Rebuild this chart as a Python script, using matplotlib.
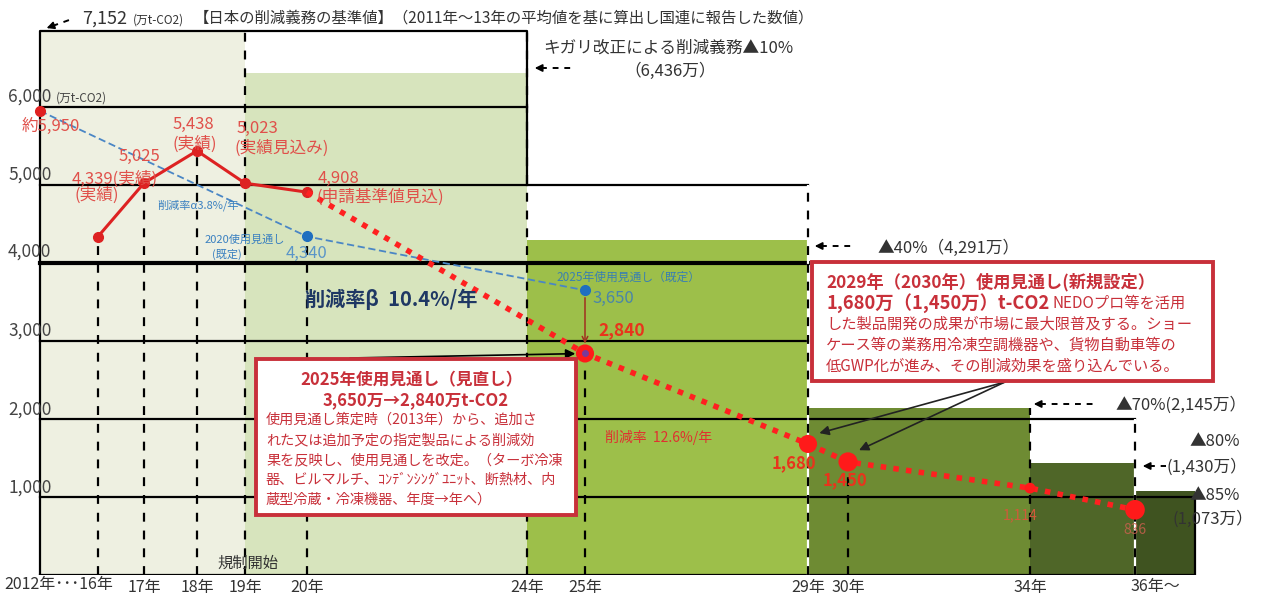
import numpy as np
import matplotlib.pyplot as plt
from matplotlib.patches import Rectangle

plt.rcParams['font.family'] = ['Noto Sans CJK JP', 'DejaVu Sans']

# 横軸：年と図上の位置（2012～16年は詰めて描かれている）
axis_years = [2012, 2016, 2017, 2018, 2019, 2020, 2024, 2025, 2029, 2030, 2034, 2036, 2037]
axis_pos = [40, 98, 144, 197, 245, 307, 527, 585, 808, 848, 1030, 1135, 1195]
tick_years = [2017, 2018, 2019, 2020, 2024, 2025, 2029, 2030, 2034]
tick_labels = ['17年', '18年', '19年', '20年', '24年', '25年', '29年', '30年', '34年']

# 削減義務の段階（万t-CO2）
step_start = [2012, 2019, 2024, 2029, 2034, 2036]
step_end = [2019, 2024, 2029, 2034, 2036, 2037]
step_cap = [6970, 6436, 4291, 2145, 1430, 1073]  # 先頭は基準値7,152の枠（図上の高さ）
step_colors = ['#eef0e1', '#d7e4bd', '#9dbf4a', '#6e8b33', '#4f6628', '#3f5320']

# 実績
actual_years = [2016, 2017, 2018, 2019, 2020]
actual_values = [4339, 5025, 5438, 5023, 4908]

# 新しい使用見通し
outlook_years = [2020, 2025, 2029, 2030, 2034, 2036]
outlook_values = [4908, 2840, 1680, 1450, 1114, 836]

# 既定の使用見通し
old_years = [2012, 2020, 2025]
old_values = [5950, 4340, 3650]

# 目盛り線とその右端
grid_values = [6000, 5000, 4000, 3000, 2000, 1000]
grid_end = [2024, 2029, 2029, 2029, 2036, 2037]

RED = '#e0504a'
BOX_RED = '#c8303a'


def xpos(year):
    return np.interp(year, axis_years, axis_pos)


fig = plt.figure(figsize=(12.74, 5.97), dpi=100)
ax = fig.add_axes([0, 22 / 597, 1, 575 / 597])
ax.set_xlim(0, 1274)
ax.set_ylim(0, 575 / 0.078)
for s in ax.spines.values():
    s.set_visible(False)
ax.set_yticks([])
ax.set_xticks(xpos(tick_years), tick_labels)
ax.tick_params(axis='x', length=0, labelsize=11.5, pad=3, labelcolor='#333333')

# 段階ごとの帯
left = xpos(step_start)
ax.bar(left, step_cap, width=xpos(step_end) - left, align='edge',
       color=step_colors, zorder=1)

# 目盛り線
for v, e in zip(grid_values, grid_end):
    ax.plot(xpos([2012, e]), [v, v], color='k', lw=3 if v == 4000 else 1.6, zorder=3)

# 枠線
top = step_cap[0]
ax.plot(xpos([2012, 2012, 2024, 2024]), [0, top, top, 5000], color='k', lw=1.6, zorder=3)
ax.plot(xpos([2029, 2029]), [5000, 2000], color='k', lw=1.2, zorder=3)
ax.plot(xpos([2036, 2036]), [2000, 1000], color='k', lw=1.2, zorder=3)
ax.plot(xpos([2037, 2037, 2012]), [1000, 0, 0], color='k', lw=1.6, zorder=3)

# 年ごとの破線
dash_years = actual_years + [2024, 2025, 2029, 2030, 2034, 2036]
dash_tops = [actual_values[0], actual_values[1], actual_values[2], top, old_values[1],
             top, outlook_values[1], 5000, outlook_values[3], step_cap[3], 2000]
ax.vlines(xpos([2029, 2036]), 0, [5000, 2000], colors='white', lw=1.6, zorder=3.5)
ax.vlines(xpos(dash_years), 0, dash_tops, colors='k', linestyles=(0, (4, 4)),
          lw=1.6, zorder=4)

# 既定の見通し（青破線）
ax.plot(xpos(old_years), old_values, color='#4a86c5', lw=1.3, ls=(0, (4, 2)), zorder=5)
ax.plot(xpos(old_years[1:]), old_values[1:], 'o', color='#1f6fc0', ms=7, zorder=6)
ax.plot(xpos(old_years[0]), old_values[0], 'o', color='#e02020', ms=7, zorder=6)

# 実績（赤実線）
ax.plot(xpos(actual_years), actual_values, color='#dd2222', lw=2.2, marker='o',
        ms=7, zorder=6)

# 新しい見通し（赤点線）
ax.plot(xpos(outlook_years), outlook_values, color='#ff2020', lw=4,
        ls=(0, (1, 1.3)), zorder=6)
ax.scatter(xpos(outlook_years[1:]), outlook_values[1:], s=[170, 170, 190, 60, 200],
           color='#ff1a1a', zorder=7, linewidths=0)
ax.plot(xpos(2025), outlook_values[1], 'o', color='#7a3a9a', ms=4, zorder=8)
ax.annotate('', xy=(xpos(2025), outlook_values[1] + 90), xytext=(xpos(2025), old_values[2] - 60),
            arrowprops=dict(arrowstyle='->', color='#a03020', lw=1.1), zorder=8)

# 注記用の重ね軸（ピクセル座標）
lay = fig.add_axes([0, 0, 1, 1], zorder=5)
lay.set_xlim(0, 1274)
lay.set_ylim(597, 0)
lay.axis('off')
lay.patch.set_alpha(0)


def T(x, y, s, **kw):
    kw.setdefault('va', 'center')
    return lay.text(x, y, s, **kw)


def dashed_arrow(x0, y0, x1, y1):
    # x0,y0 が矢じり側
    d = np.hypot(x1 - x0, y1 - y0)
    ux, uy = (x1 - x0) / d, (y1 - y0) / d
    lay.plot([x0 + ux * 9, x1], [y0 + uy * 9, y1], color='k', lw=1.4, ls=(0, (3, 3)))
    lay.annotate('', xy=(x0, y0), xytext=(x0 + ux * 10, y0 + uy * 10),
                 arrowprops=dict(arrowstyle='-|>', color='k', lw=1.2, mutation_scale=11))


# 上部タイトル
dashed_arrow(44, 29, 72, 19)
T(82, 19, '7,152', fontsize=13, color='#333333')
T(133, 20, '(万t-CO2)', fontsize=8.5, color='#333333')
T(194, 18, '【日本の削減義務の基準値】（2011年～13年の平均値を基に算出し国連に報告した数値）',
  fontsize=11.1, color='#333333')

# キガリ改正
T(543, 48, 'キガリ改正による削減義務▲10%', fontsize=12, color='#333333')
T(670, 71, '（6,436万）', fontsize=12, color='#333333', ha='center')
dashed_arrow(532, 68, 575, 68)

# 縦軸ラベル
T(8, 97, '6,000', fontsize=12.5, color='#444444')
T(56, 98, '(万t-CO2)', fontsize=8.5, color='#444444')
for v, py in zip([5000, 4000, 3000, 2000, 1000], [175, 252, 331, 410, 488]):
    T(8, py, f'{v:,}', fontsize=12.5, color='#444444')

# 横軸の端のラベル
T(4, 585, '2012年･･･16年', fontsize=11.5, color='#333333')
T(1155, 587, '36年～', fontsize=11.5, color='#333333', ha='center')
T(217, 563, '規制開始', fontsize=11, color='#333333')

# 実績の数値
T(22, 126, '約5,950', fontsize=12, color=RED)
T(72, 179, '4,339(実績)', fontsize=12, color=RED)
T(75, 195, '(実績)', fontsize=12, color=RED)
T(119, 156, '5,025', fontsize=12, color=RED)
T(173, 124, '5,438', fontsize=12, color=RED)
T(173, 144, '(実績)', fontsize=12, color=RED)
T(237, 128, '5,023', fontsize=12, color=RED)
T(235, 148, '(実績見込み)', fontsize=12, color=RED)
T(318, 178, '4,908', fontsize=12, color=RED)
T(316, 197, '(申請基準値見込)', fontsize=12, color=RED)

# 既定の見通しの数値
T(157, 205, '削減率α3.8%/年', fontsize=8, color='#3a80c0')
T(205, 240, '2020使用見通し', fontsize=8, color='#3a80c0')
T(212, 254, '(既定)', fontsize=8, color='#3a80c0')
T(286, 253, '4,340', fontsize=12, color='#5a95c8')
T(556, 277, '2025年使用見通し（既定）', fontsize=8.5, color='#3a80b0')
T(592, 298, '3,650', fontsize=12, color='#4a85a8')

T(305, 299, '削減率β  10.4%/年', fontsize=14.5, color='#1f3864', fontweight='bold')
T(598, 330, '2,840', fontsize=12.5, color='#e8341c', fontweight='bold')
T(605, 437, '削減率  12.6%/年', fontsize=10, color='#e03030')

T(772, 463, '1,680', fontsize=12, color='#e8341c', fontweight='bold')
T(823, 480, '1,450', fontsize=12, color='#e8341c', fontweight='bold')
T(1003, 515, '1,114', fontsize=10, color='#d05a3a')
T(1123, 530, '836', fontsize=10, color='#d06050', alpha=0.8)

# 右側の削減義務ラベル
T(877, 248, '▲40%（4,291万）', fontsize=12, color='#333333')
dashed_arrow(812, 246, 852, 246)
T(1115, 405, '▲70%(2,145万）', fontsize=12, color='#333333')
dashed_arrow(1031, 404, 1098, 404)
T(1190, 441, '▲80%', fontsize=12, color='#333333')
dashed_arrow(1140, 466, 1166, 466)
T(1167, 467, '(1,430万）', fontsize=12, color='#333333')
T(1190, 495, '▲85%', fontsize=12, color='#333333')
T(1172, 519, '(1,073万）', fontsize=12, color='#333333')

# 2025年の説明枠
lay.add_patch(Rectangle((256, 359), 320, 156, facecolor='white', edgecolor=BOX_RED, lw=2.8))
T(412, 380, '2025年使用見通し（見直し）', fontsize=12, color=BOX_RED, fontweight='bold', ha='center')
T(416, 400, '3,650万→2,840万t-CO2', fontsize=12, color=BOX_RED, fontweight='bold', ha='center')
box1_lines = ['使用見通し策定時（2013年）から、追加さ',
              'れた又は追加予定の指定製品による削減効',
              '果を反映し、使用見通しを改定。（ターボ冷凍',
              '器、ビルマルチ、ｺﾝﾃﾞﾝｼﾝｸﾞﾕﾆｯﾄ、断熱材、内',
              '蔵型冷蔵・冷凍機器、年度→年へ）']
for i, line in enumerate(box1_lines):
    T(266, 420 + i * 20, line, fontsize=10.2, color=BOX_RED)
ax.annotate('', xy=(xpos(2025), outlook_values[1]), xytext=(350, 358),
            textcoords=lay.transData,
            arrowprops=dict(arrowstyle='-|>', color='k', lw=1.2, shrinkA=0, shrinkB=7,
                            mutation_scale=14), zorder=9)

# 2029年（2030年）の説明枠
lay.add_patch(Rectangle((812, 262), 401, 119, facecolor='white', edgecolor=BOX_RED, lw=2.8))
T(826, 282, '2029年（2030年）使用見通し(新規設定）', fontsize=12.4, color=BOX_RED, fontweight='bold')
T(826, 303, '1,680万（1,450万）t-CO2', fontsize=13.2, color=BOX_RED, fontweight='bold')
T(1053, 303, 'NEDOプロ等を活用', fontsize=11, color=BOX_RED)
box2_lines = ['した製品開発の成果が市場に最大限普及する。ショー',
              'ケース等の業務用冷凍空調機器や、貨物自動車等の',
              '低GWP化が進み、その削減効果を盛り込んでいる。']
for i, line in enumerate(box2_lines):
    T(826, 324 + i * 21, line, fontsize=11, color=BOX_RED)
for yr, val in zip(outlook_years[2:4], outlook_values[2:4]):
    ax.annotate('', xy=(xpos(yr) + 6, val + 120), xytext=(1005, 382),
                textcoords=lay.transData,
                arrowprops=dict(arrowstyle='-|>', color='#222222', lw=1.2, shrinkA=0,
                                shrinkB=4, mutation_scale=14), zorder=9)

fig.savefig('out.png', dpi=100)
